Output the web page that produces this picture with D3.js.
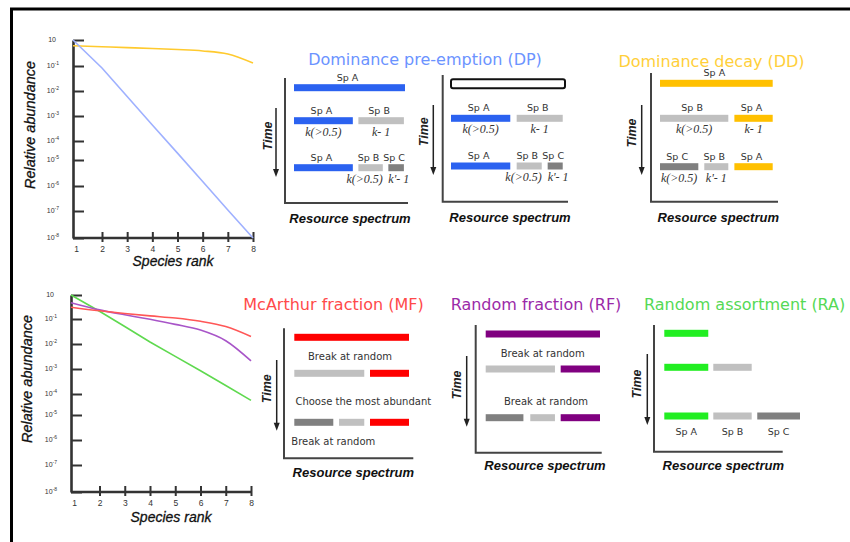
<!DOCTYPE html>
<html><head><meta charset="utf-8">
<script src="https://cdn.jsdelivr.net/npm/d3@7"></script>
<style>html,body{margin:0;padding:0;background:#fff;}svg{display:block;}</style>
</head><body>
<svg id="c" width="850" height="542"></svg>
<script>
// ---------------- DATA ----------------
const ranks = [1, 2, 3, 4, 5, 6, 7, 8];
const yTickValues = [1, 1e-1, 1e-2, 1e-3, 1e-4, 1e-5, 1e-6, 1e-7, 1e-8];
const yTickBase = "10";
const yTickSups = ["", "-1", "-2", "-3", "-4", "-5", "-6", "-7", "-8"];

// relative abundance per species rank
const dpAbundance = [1, 0.083, 0.006, 4.4e-4, 2.3e-5, 1.5e-6, 1.1e-7, 1e-8];
const ddAbundance = [0.6, 0.55, 0.51, 0.47, 0.43, 0.38, 0.29, 0.13];
const mfAbundance = [0.31, 0.22, 0.17, 0.135, 0.11, 0.081, 0.05, 0.02];
const rfAbundance = [0.48, 0.24, 0.15, 0.097, 0.061, 0.036, 0.0135, 0.0021];
const raAbundance = [1, 0.21, 0.05, 0.012, 0.0032, 8.5e-4, 2.2e-4, 5e-5];

// resource spectrum segments (fractions of the spectrum) per time step (row)
const dp1Segments = [
  {row: 0, from: 0, to: 1, sp: "A", name: "Sp A", share: ""},
  {row: 1, from: 0, to: 0.53, sp: "A", name: "Sp A", share: "k(>0.5)"},
  {row: 1, from: 0.58, to: 0.99, sp: "B", name: "Sp B", share: "k- 1"},
  {row: 2, from: 0, to: 0.53, sp: "A", name: "Sp A", share: ""},
  {row: 2, from: 0.58, to: 0.80, sp: "B", name: "Sp B", share: "k(>0.5)"},
  {row: 2, from: 0.85, to: 0.99, sp: "C", name: "Sp C", share: "k'- 1"}
];
const dp2Segments = [
  {row: 0, from: 0, to: 1, sp: "none", name: "", share: ""},
  {row: 1, from: 0, to: 0.52, sp: "A", name: "Sp A", share: "k(>0.5)"},
  {row: 1, from: 0.576, to: 0.98, sp: "B", name: "Sp B", share: "k- 1"},
  {row: 2, from: 0, to: 0.52, sp: "A", name: "Sp A", share: ""},
  {row: 2, from: 0.576, to: 0.796, sp: "B", name: "Sp B", share: "k(>0.5)"},
  {row: 2, from: 0.848, to: 0.98, sp: "C", name: "Sp C", share: "k'- 1"}
];
const ddSegments = [
  {row: 0, from: 0, to: 1, sp: "A", name: "Sp A", share: ""},
  {row: 1, from: 0, to: 0.606, sp: "B", name: "Sp B", share: "k(>0.5)"},
  {row: 1, from: 0.66, to: 1, sp: "A", name: "Sp A", share: "k- 1"},
  {row: 2, from: 0, to: 0.34, sp: "C", name: "Sp C", share: "k(>0.5)"},
  {row: 2, from: 0.393, to: 0.606, sp: "B", name: "Sp B", share: "k'- 1"},
  {row: 2, from: 0.66, to: 1, sp: "A", name: "Sp A", share: ""}
];
const mfSegments = [
  {row: 0, from: 0, to: 1, sp: "A", name: "", share: ""},
  {row: 1, from: 0, to: 0.61, sp: "B", name: "", share: ""},
  {row: 1, from: 0.66, to: 1, sp: "A", name: "", share: ""},
  {row: 2, from: 0, to: 0.34, sp: "C", name: "", share: ""},
  {row: 2, from: 0.39, to: 0.61, sp: "B", name: "", share: ""},
  {row: 2, from: 0.66, to: 1, sp: "A", name: "", share: ""}
];
const rfSegments = [
  {row: 0, from: 0, to: 1, sp: "A", name: "", share: ""},
  {row: 1, from: 0, to: 0.606, sp: "B", name: "", share: ""},
  {row: 1, from: 0.656, to: 1, sp: "A", name: "", share: ""},
  {row: 2, from: 0, to: 0.33, sp: "C", name: "", share: ""},
  {row: 2, from: 0.39, to: 0.606, sp: "B", name: "", share: ""},
  {row: 2, from: 0.656, to: 1, sp: "A", name: "", share: ""}
];
const raSegments = [
  {row: 0, from: 0, to: 0.324, sp: "A", name: "", share: ""},
  {row: 1, from: 0, to: 0.324, sp: "A", name: "", share: ""},
  {row: 1, from: 0.361, to: 0.644, sp: "B", name: "", share: ""},
  {row: 2, from: 0, to: 0.324, sp: "A", name: "Sp A", share: ""},
  {row: 2, from: 0.361, to: 0.644, sp: "B", name: "Sp B", share: ""},
  {row: 2, from: 0.685, to: 1, sp: "C", name: "Sp C", share: ""}
];
const mfNotes = ["Break at random", "Choose the most abundant", "Break at random"];
const rfNotes = ["Break at random", "Break at random"];
const titles = ["Dominance pre-emption (DP)", "Dominance decay (DD)", "McArthur fraction (MF)", "Random fraction (RF)", "Random assortment (RA)"];

// ---------------- DRAW ----------------
const svg = d3.select("#c");
const SANS = "'DejaVu Sans', Verdana, sans-serif";
const ARIAL = "'Liberation Sans', Arial, sans-serif";
const SERIF = "'Liberation Serif', 'Times New Roman', serif";

// frame
svg.append("line").attr("x1", 10).attr("x2", 850).attr("y1", 9).attr("y2", 9).attr("stroke", "#000").attr("stroke-width", 3);
svg.append("line").attr("x1", 11.5).attr("x2", 11.5).attr("y1", 8).attr("y2", 542).attr("stroke", "#000").attr("stroke-width", 3);

function rankChart(cfg) {
  const g = svg.append("g");
  const x = d3.scaleLinear().domain([1, 2, 8]).range(cfg.xr);
  const y = d3.scaleLog().domain(yTickValues).range(cfg.yr);
  const axisY = y(1e-8);
  // y axis
  const ya = g.append("g").attr("transform", `translate(${x(1)},0)`)
    .call(d3.axisLeft(y).tickValues(yTickValues).tickSize(-11).tickSizeOuter(0).tickFormat(""));
  ya.select(".domain").attr("stroke", "#333").attr("stroke-width", 2.6);
  ya.selectAll(".tick line").attr("stroke", "#333").attr("stroke-width", 2);
  // y tick labels
  yTickValues.forEach((v, i) => {
    const t = g.append("text").attr("x", x(1) - (yTickSups[i] ? 14 : 17)).attr("y", y(v)).attr("dy", "0.35em")
      .attr("text-anchor", "end").attr("font-family", ARIAL).attr("font-size", 7).attr("fill", "#333").text(yTickBase);
    if (yTickSups[i]) t.append("tspan").attr("dy", -3).attr("font-size", 5).text(yTickSups[i]);
  });
  // x axis
  g.append("line").attr("x1", x(1)).attr("x2", x(8)).attr("y1", axisY).attr("y2", axisY).attr("stroke", "#333").attr("stroke-width", 2.6);
  const xa = g.append("g").attr("transform", `translate(0,${axisY - 6})`)
    .call(d3.axisBottom(x).tickValues(ranks).tickSizeInner(10).tickSizeOuter(0).tickPadding(3.5).tickFormat(d3.format("d")));
  xa.select(".domain").remove();
  xa.selectAll(".tick line").attr("stroke", "#333").attr("stroke-width", 2).attr("display", d => d === 1 ? "none" : null);
  xa.selectAll(".tick text").attr("font-family", ARIAL).attr("font-size", 8.5).attr("fill", "#333").attr("dy", "0.71em")
    .attr("dx", d => d === 1 ? 3 : 0);
  // axis titles
  g.append("text").attr("x", cfg.rankLabel[0]).attr("y", cfg.rankLabel[1]).attr("text-anchor", "middle")
    .attr("font-family", ARIAL).attr("font-style", "italic").attr("font-size", 14).attr("fill", "#111")
    .attr("stroke", "#111").attr("stroke-width", 0.3).text("Species rank");
  g.append("text").attr("transform", `translate(${cfg.abLabel[0]},${cfg.abLabel[1]}) rotate(-90)`).attr("text-anchor", "middle")
    .attr("font-family", ARIAL).attr("font-style", "italic").attr("font-size", 14.5).attr("fill", "#111")
    .attr("stroke", "#111").attr("stroke-width", 0.3).text("Relative abundance");
  // series
  cfg.series.forEach(s => {
    const line = d3.line().x((d, i) => x(ranks[i])).y(d => y(d)).curve(s.straight ? d3.curveLinear : d3.curveMonotoneX);
    g.append("path").datum(s.values).attr("d", line).attr("fill", "none").attr("stroke", s.color).attr("stroke-width", 1.6);
  });
}

rankChart({
  xr: [73, 102, 253], yr: [40, 66, 91, 116, 141, 160, 186, 211, 238],
  rankLabel: [173, 265.5], abLabel: [35, 125],
  series: [{values: ddAbundance, color: "#ffca2e"}, {values: dpAbundance, color: "#9fb1ff", straight: true}]
});
rankChart({
  xr: [71, 99.5, 251], yr: [295, 319, 344, 369, 394, 415, 440, 465, 492],
  rankLabel: [171, 521.5], abLabel: [32, 379],
  series: [{values: raAbundance, color: "#5fd94f", straight: true}, {values: rfAbundance, color: "#a855c8"}, {values: mfAbundance, color: "#ff5757"}]
});

// titles
const titleLayout = [
  {x: 425, y: 65, anchor: "middle", color: "#6b93ff"},
  {x: 711.5, y: 66.5, anchor: "middle", color: "#ffcf3a"},
  {x: 333.5, y: 310, anchor: "middle", color: "#ff4a4a"},
  {x: 536, y: 310, anchor: "middle", color: "#9b2aa8"},
  {x: 644, y: 310, anchor: "start", color: "#55d955"}
];
titles.forEach((t, i) => {
  const L = titleLayout[i];
  svg.append("text").attr("x", L.x).attr("y", L.y).attr("text-anchor", L.anchor)
    .attr("font-family", SANS).attr("font-size", 16).attr("fill", L.color).text(t);
});

function panel(p) {
  const g = svg.append("g");
  const x = d3.scaleLinear().domain([0, 1]).range([p.x0, p.x1]);
  const y = d3.scaleOrdinal().domain([0, 1, 2]).range(p.rows);
  const fill = {A: p.color, B: "#c0c0c0", C: "#808080", none: "#fff"};
  // axes
  g.append("path").attr("d", `M${p.ax},${p.atop}V${p.abot}H${p.aright}`).attr("fill", "none")
    .attr("stroke", "#444").attr("stroke-width", 2);
  // time arrow
  g.append("line").attr("x1", p.tx).attr("x2", p.tx).attr("y1", p.ty0).attr("y2", p.ty1 - 6).attr("stroke", "#222").attr("stroke-width", 1.5);
  g.append("path").attr("d", `M${p.tx - 3},${p.ty1 - 8}L${p.tx + 3},${p.ty1 - 8}L${p.tx},${p.ty1}Z`).attr("fill", "#222");
  g.append("text").attr("transform", `translate(${p.tlx},${p.tly}) rotate(-90)`).attr("text-anchor", "middle")
    .attr("font-family", ARIAL).attr("font-weight", "bold").attr("font-style", "italic").attr("font-size", 12.5)
    .attr("fill", "#222").text("Time");
  g.append("text").attr("x", p.rsx).attr("y", p.rsy).attr("text-anchor", "middle")
    .attr("font-family", ARIAL).attr("font-weight", "bold").attr("font-style", "italic").attr("font-size", 13)
    .attr("fill", "#111").text("Resource spectrum");
  // bars
  g.selectAll("rect.seg").data(p.segs).join("rect").attr("class", "seg")
    .attr("x", d => x(d.from)).attr("width", d => x(d.to) - x(d.from))
    .attr("y", d => y(d.row) - (d.sp === "none" ? 4.5 : 3.5)).attr("height", d => d.sp === "none" ? 9 : 7)
    .attr("rx", d => d.sp === "none" ? 2 : 0)
    .attr("fill", d => fill[d.sp]).attr("stroke", d => d.sp === "none" ? "#111" : "none").attr("stroke-width", 2);
  // species labels
  g.selectAll("text.sp").data(p.segs.filter(d => d.name)).join("text").attr("class", "sp")
    .attr("x", d => x((d.from + d.to) / 2) - (p.below ? 0 : 2)).attr("y", d => y(d.row) + (p.below ? 19 : -7))
    .attr("text-anchor", "middle").attr("font-family", SANS).attr("font-size", 9.5).attr("fill", "#333").text(d => d.name);
  // share labels: centred; when wider than the segment, pushed away from the neighbouring label
  const shares = p.segs.filter(d => d.share);
  g.selectAll("text.sh").data(shares).join("text").attr("class", "sh")
    .attr("y", d => y(d.row) + 15)
    .attr("font-family", SERIF).attr("font-style", "italic").attr("font-size", 12)
    .attr("fill", "#333").text(d => d.share)
    .each(function(d) {
      const w = this.getComputedTextLength();
      const segW = x(d.to) - x(d.from);
      const sel = d3.select(this);
      if (w <= segW + 2) { sel.attr("x", x((d.from + d.to) / 2)).attr("text-anchor", "middle"); return; }
      const hasRight = shares.some(o => o.row === d.row && o.from > d.from);
      if (hasRight) sel.attr("x", x(d.to)).attr("text-anchor", "end");
      else sel.attr("x", x(d.from)).attr("text-anchor", "start");
    });
  // notes
  (p.notes || []).forEach((n, i) => {
    const L = p.noteLayout[i];
    g.append("text").attr("x", L[0]).attr("y", L[1]).attr("text-anchor", "middle")
      .attr("font-family", SANS).attr("font-size", 10).attr("fill", "#333").text(n);
  });
}

panel({segs: dp1Segments, color: "#2b62f0", x0: 294, x1: 405, rows: [87.7, 120.7, 167.7],
  ax: 285, atop: 78, abot: 203, aright: 408, tx: 276, ty0: 108, ty1: 177, tlx: 272, tly: 136, rsx: 350, rsy: 223});
panel({segs: dp2Segments, color: "#2b62f0", x0: 451, x1: 565, rows: [83.8, 118.3, 166],
  ax: 442.7, atop: 75, abot: 201.7, aright: 568, tx: 433.3, ty0: 105, ty1: 175, tlx: 428, tly: 131.7, rsx: 510, rsy: 221.7});
panel({segs: ddSegments, color: "#ffc000", x0: 660, x1: 772.7, rows: [83.3, 118.3, 166.7],
  ax: 651, atop: 73, abot: 201.7, aright: 778, tx: 641.7, ty0: 105, ty1: 175, tlx: 636, tly: 133, rsx: 718.3, rsy: 221.7});
panel({segs: mfSegments, color: "#ff0000", x0: 294.3, x1: 409, rows: [337.3, 373.3, 422.3],
  ax: 284, atop: 328.3, abot: 458.3, aright: 413.3, tx: 276.7, ty0: 360, ty1: 430.7, tlx: 271, tly: 388.7, rsx: 353.3, rsy: 476.7,
  notes: mfNotes, noteLayout: [[350, 360], [363.3, 405], [333.3, 445]]});
panel({segs: rfSegments, color: "#800080", x0: 485.7, x1: 600, rows: [334, 369, 417.7],
  ax: 475.7, atop: 325, abot: 452.7, aright: 601.7, tx: 466.7, ty0: 356, ty1: 426.7, tlx: 461, tly: 385, rsx: 545, rsy: 470,
  notes: rfNotes, noteLayout: [[542.7, 357], [546, 405]]});
panel({segs: raSegments, color: "#22ee22", x0: 664.3, x1: 800, rows: [333.3, 367.3, 416], below: true,
  ax: 654, atop: 325, abot: 451.7, aright: 782.7, tx: 647.3, ty0: 354, ty1: 425, tlx: 641, tly: 384, rsx: 723.3, rsy: 470});
</script>
</body></html>
